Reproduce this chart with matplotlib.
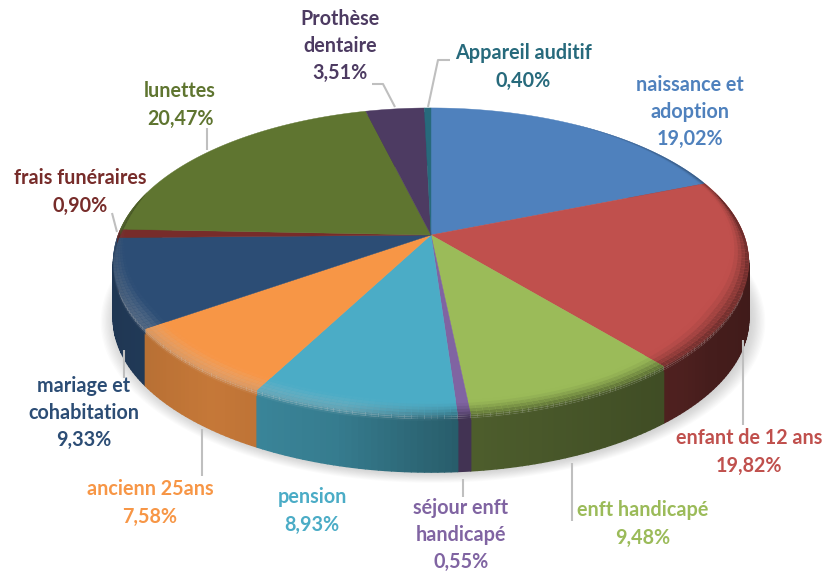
import numpy as np
import matplotlib
matplotlib.use("Agg")
import matplotlib.pyplot as plt
from matplotlib.collections import PolyCollection
from matplotlib.colors import to_rgb

# data, clockwise from the top
names = ["naissance et\nadoption", "enfant de 12 ans", "enft handicapé", "séjour enft\nhandicapé",
         "pension", "ancienn 25ans", "mariage et\ncohabitation", "frais funéraires",
         "lunettes", "Prothèse\ndentaire", "Appareil auditif"]
values = [19.02, 19.82, 9.48, 0.55, 8.93, 7.58, 9.33, 0.90, 20.47, 3.51, 0.40]
colors = ["#4f81bd", "#c0504d", "#9bbb59", "#8064a2", "#4bacc6", "#f79646",
          "#2c4d75", "#772c2a", "#5f7530", "#4d3b62", "#276a7c"]

# label centres and leader lines, in pixels
label_pos = [(690, 112), (749, 452), (643, 524), (461, 535), (312, 511), (150, 503),
             (84, 413), (80, 192), (180, 105), (340, 46), (523, 67)]
leaders = [[(743, 340), (743, 425)], [(572, 463), (572, 521)], [(463, 479), (463, 497)],
           [(202, 429), (202, 476)], [(124, 350), (124, 378)], [(112, 213), (117, 232)],
           [(207, 128), (207, 150)], [(372, 84), (383, 84), (395, 107)],
           [(450, 60), (438, 60), (428, 107)]]

# perspective of the disc
cx, cy = 431, 235
A, B, k = 313, 149, 0.1727
depth = 57


def project(r, ang):
    u, v = r * np.sin(ang), r * np.cos(ang)
    w = 1 + k * v
    return cx + A * u / w, cy - B * v / w


def wall_color(col, ang):
    # side gets darker going to the right
    f = np.interp(np.sin(ang), [-1, -0.6, -0.25, 0.05, 0.1, 0.7, 0.8, 1],
                  [0.7, 0.8, 0.72, 0.55, 0.5, 0.4, 0.36, 0.33])
    return np.array(col) * f


fig = plt.figure(figsize=(8.22, 5.71), dpi=100)
ax = fig.add_axes([0, 0, 1, 1])
ax.set_xlim(0, 822)
ax.set_ylim(571, 0)
ax.axis("off")

# soft shadow
full = np.linspace(0, 2 * np.pi, 240)
for g in np.linspace(14, 0, 12):
    x, y = project(1 + g / 317, full)
    ax.fill(x + 2, y + depth + 1, color="#808080", alpha=0.03, lw=0, zorder=1)

edges = np.cumsum([0] + values) / sum(values) * 2 * np.pi

walls, wall_c, wall_v = [], [], []
bevel, bevel_c = [], []
faces = []
for i, val in enumerate(values):
    col = np.array(to_rgb(colors[i]))
    n = max(2, int((edges[i + 1] - edges[i]) / np.radians(1.0)) + 1)
    angs = np.linspace(edges[i], edges[i + 1], n)

    # flat top
    x, y = project(1, angs)
    faces.append((np.r_[cx, x], np.r_[cy, y], col))

    for a0, a1 in zip(angs[:-1], angs[1:]):
        mid = (a0 + a1) / 2
        wc = wall_color(col, mid)
        # wall
        x0, y0 = project(1, a0)
        x1, y1 = project(1, a1)
        walls.append([(x0, y0 + 5), (x1, y1 + 5), (x1, y1 + depth), (x0, y0 + depth)])
        wall_c.append(wc)
        wall_v.append(np.cos(mid))

        # rounded edge between top and wall, only at the front and on the right
        front = np.clip((0.3 - np.cos(mid)) / 0.8, 0, 1)
        back = 0.02 * np.clip(np.sin(mid) * 2.5 - 1.3, 0, 1)
        width = back + 0.065 * front
        if width <= 0:
            continue
        rr = np.r_[np.linspace(1 - width, 1, 6), np.ones(3)]
        ss = np.r_[np.zeros(6), 2, 4, 6] * np.clip(front * 4, 0, 1)
        hl = 0.2 * front * np.clip(-np.sin(mid) * 3 + 0.3, 0, 1)
        for j in range(len(rr) - 1):
            if ss[j + 1] == ss[j] and rr[j + 1] == rr[j]:
                continue
            xa, ya = project(rr[j], a0)
            xb, yb = project(rr[j], a1)
            xc, yc = project(rr[j + 1], a1)
            xd, yd = project(rr[j + 1], a0)
            s = (j + 0.5) / (len(rr) - 1)
            blend = s * s * (3 - 2 * s)
            c = col + (wc - col) * blend
            c = c + (1 - c) * hl * np.sin(np.pi * s ** 1.3)
            bevel.append([(xa, ya + ss[j]), (xb, yb + ss[j]), (xc, yc + ss[j + 1]), (xd, yd + ss[j + 1])])
            bevel_c.append(c)

idx = np.argsort(wall_v)[::-1]
walls = [walls[q] for q in idx]
wall_c = [wall_c[q] for q in idx]

ax.add_collection(PolyCollection(walls, facecolors=wall_c, edgecolors=wall_c, linewidths=1.0, zorder=2))
for x, y, col in faces:
    ax.fill(x, y, color=col, lw=0.3, zorder=3)
ax.add_collection(PolyCollection(bevel, facecolors=bevel_c, edgecolors="none", linewidths=0, zorder=4))

for pts in leaders:
    xs, ys = zip(*pts)
    ax.plot(xs, ys, color="#bfbfbf", lw=1.5, zorder=5, solid_capstyle="butt")

for name, val, col, pos in zip(names, values, colors, label_pos):
    txt = name + "\n" + f"{val:.2f}".replace(".", ",") + "%"
    ax.text(pos[0], pos[1], txt, color=col, family="Lato", weight="bold", fontsize=14.2,
            ha="center", va="center", multialignment="center", linespacing=1.45, zorder=6)

fig.savefig("out.png", dpi=100)
